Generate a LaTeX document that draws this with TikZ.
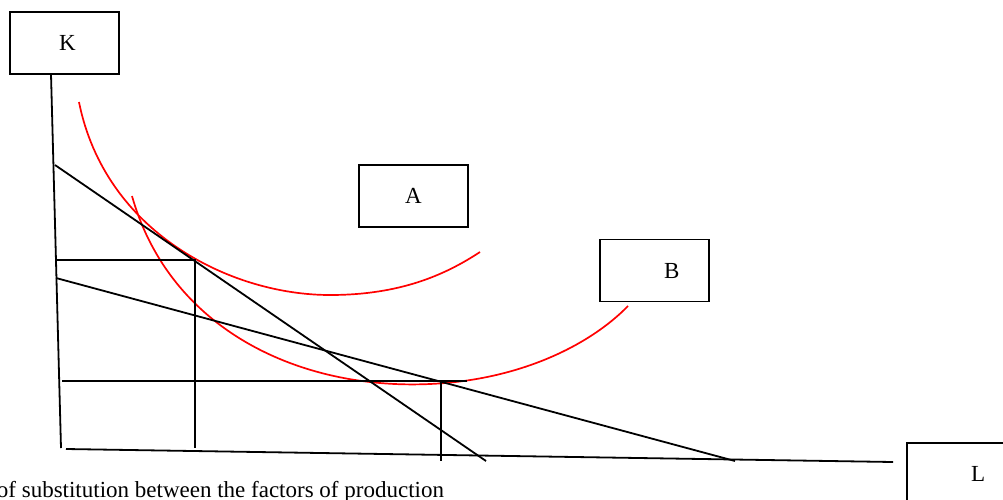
\documentclass[tikz,border=0pt]{standalone}
\usepackage{fontspec}
\setmainfont{Liberation Serif}
\usepackage{tikz}
\usetikzlibrary{positioning}

\begin{document}
\begin{tikzpicture}[x=1pt,y=-1pt,line width=1.8pt,
  lbox/.style={draw,line width=1.6pt,text width=109pt,inner xsep=0pt,inner ysep=0pt,align=left,minimum height=62pt,font=\fontsize{23}{27}\selectfont},
  curve/.style={red,line width=1.7pt}]
\useasboundingbox (0,0) rectangle (1003,499);
\node[lbox] (kbox) at (64.5,43) {\hspace*{49pt}K};
\node[lbox] (abox) at (413.5,196) {\hspace*{46pt}A};
\node[lbox] (bbox) at (654.5,270.5) {\hspace*{64pt}B};
\node[lbox] (lbox) at (961.5,474) {\hspace*{64pt}L};
% axes
\coordinate (ktop) at (51,74);
\coordinate (origin) at (61,448);
\coordinate (lstart) at (66,449);
\coordinate (lend) at (893,462);
\draw (ktop) -- (origin);
\draw (lstart) -- (lend);
% isoquants
\draw[curve] (79,102) .. controls (105,232) and (230,295) .. (330,295)
  .. controls (400,295) and (445,275) .. (480,252);
\draw[curve] (132,196) .. controls (170,330) and (300,390) .. (430,384)
  .. controls (520,380) and (590,345) .. (628,306);
% isocost lines
\coordinate (c1a) at (55,165);
\coordinate (c1b) at (486,461);
\coordinate (c2a) at (56,278);
\coordinate (c2b) at (735,461);
\draw (c1a) -- (c1b);
\draw (c2a) -- (c2b);
% optimum points
\coordinate (ea) at (195,260);
\coordinate (eb) at (441,381);
\draw (57,260) -- (ea) -- (195,448);
\draw (62,381) -- (467,381);
\draw (eb) -- (441,461);
\node[anchor=base west,inner sep=0pt,font=\fontsize{23}{27}\selectfont] (note) at (-4,497) {of substitution between the factors of production};
\end{tikzpicture}
\end{document}
